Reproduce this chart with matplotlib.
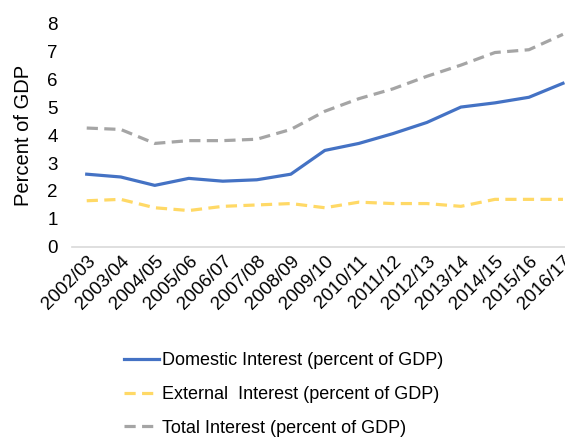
import matplotlib
matplotlib.use("Agg")
import matplotlib.pyplot as plt

years = ["2002/03","2003/04","2004/05","2005/06","2006/07","2007/08","2008/09",
         "2009/10","2010/11","2011/12","2012/13","2013/14","2014/15","2015/16","2016/17"]
domestic = [2.6, 2.5, 2.2, 2.45, 2.35, 2.4, 2.6, 3.45, 3.7, 4.05, 4.45, 5.0, 5.15, 5.35, 5.85]
external = [1.65, 1.7, 1.4, 1.3, 1.45, 1.5, 1.55, 1.4, 1.6, 1.55, 1.55, 1.45, 1.7, 1.7, 1.7]
total = [4.25, 4.2, 3.7, 3.8, 3.8, 3.85, 4.2, 4.85, 5.3, 5.65, 6.1, 6.5, 6.95, 7.05, 7.6]

plt.rcParams['font.family'] = ['Liberation Sans', 'DejaVu Sans']
fig = plt.figure(figsize=(5.65, 4.37), dpi=100)
ax = fig.add_axes([0.127, 0.435, 0.873, 0.512])
x = list(range(len(years)))
ax.plot(x, domestic, color='#4472C4', lw=2.3, label='Domestic Interest (percent of GDP)')
ax.plot(x, external, color='#FFD966', lw=2.3, ls=(0, (3.5, 2)), label='External  Interest (percent of GDP)')
ax.plot(x, total, color='#A5A5A5', lw=2.3, ls=(0, (3.5, 2)), label='Total Interest (percent of GDP)')
ax.set_ylim(0, 8)
ax.set_xlim(-0.44, 14.06)
ax.set_yticks(range(0, 9))
ax.set_xticks(x)
ax.set_xticklabels(years, rotation=45, ha='right', rotation_mode='anchor', fontsize=13.5)
ax.tick_params(axis='y', length=0, labelsize=13.5, pad=10)
ax.tick_params(axis='x', length=0, pad=4)
for s in ['top', 'right', 'left']:
    ax.spines[s].set_visible(False)
ax.spines['bottom'].set_color('#D9D9D9')
ax.spines['bottom'].set_linewidth(1.2)
ax.set_ylabel('Percent of GDP', fontsize=14.5, labelpad=10)
fig.legend(loc='upper left', bbox_to_anchor=(0.207, 0.21), frameon=False, fontsize=13,
           handlelength=1.95, handletextpad=0.15, labelspacing=0.92, borderaxespad=0)
fig.savefig('out.png', dpi=100)
